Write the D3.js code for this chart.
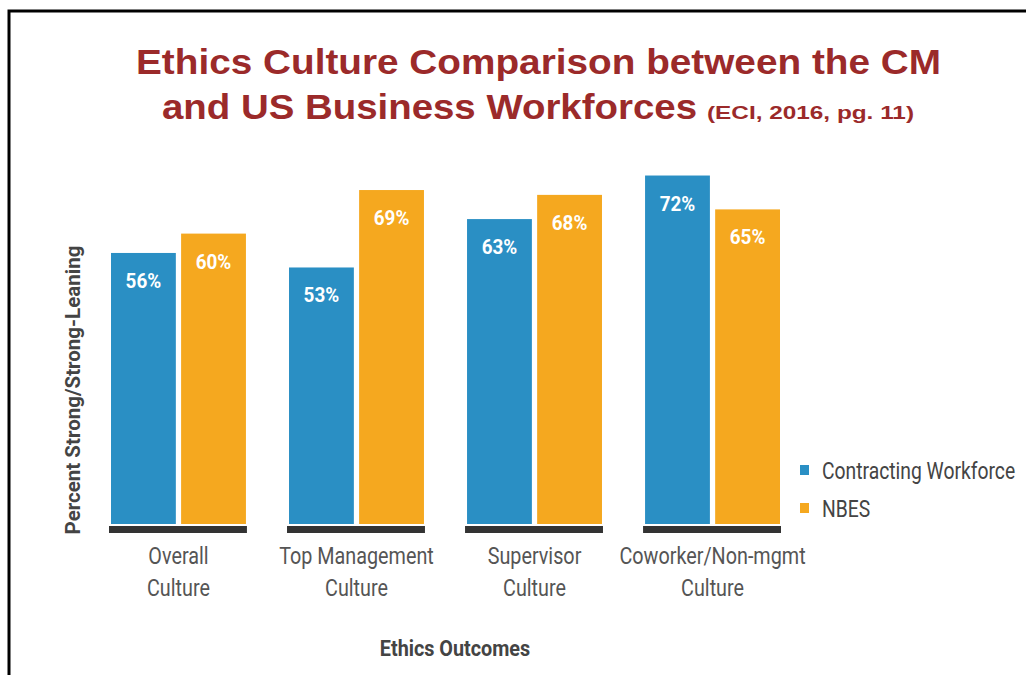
<!DOCTYPE html>
<html>
<head>
<meta charset="utf-8">
<script src="https://cdn.jsdelivr.net/npm/d3@7"></script>
<style>
  body { margin: 0; background: #fff; }
  svg { display: block; }
  text { font-family: Roboto, "Noto Sans", sans-serif; }
</style>
</head>
<body>
<svg id="chart" width="1026" height="675"></svg>
<script>
// categories and series
const categories = [["Overall", "Culture"], ["Top Management", "Culture"], ["Supervisor", "Culture"], ["Coworker/Non-mgmt", "Culture"]];
const seriesNames = ["Contracting Workforce", "NBES"];
const contracting = [56, 53, 63, 72];
const nbes = [60, 69, 68, 65];
const colors = ["#2a8fc4", "#f5a81f"];

let svg = d3.select('#chart');

// frame (only top and left edges show)
svg.append('path')
   .attr('d', 'M9,680 L9,11 L1030,11')
   .attr('fill', 'none')
   .attr('stroke', '#000')
   .attr('stroke-width', 3);

// title, stretched to the widths seen in the picture
let titleFont = 'Liberation Sans, Arial, sans-serif';
svg.append('text')
   .attr('x', 136).attr('y', 74)
   .attr('font-size', 35)
   .attr('textLength', 805)
   .attr('lengthAdjust', 'spacingAndGlyphs')
   .text('Ethics Culture Comparison between the CM');
svg.append('text')
   .attr('x', 162).attr('y', 119)
   .attr('font-size', 35)
   .attr('textLength', 535)
   .attr('lengthAdjust', 'spacingAndGlyphs')
   .text('and US Business Workforces');
svg.append('text')
   .attr('x', 707).attr('y', 119)
   .attr('font-size', 19)
   .attr('textLength', 207)
   .attr('lengthAdjust', 'spacingAndGlyphs')
   .text('(ECI, 2016, pg. 11)');
svg.selectAll('text')
   .style('font-family', titleFont)
   .attr('font-weight', 'bold')
   .attr('fill', '#9b2a2a');

let x0 = d3.scaleBand()
   .domain(d3.range(categories.length))
   .range([111, 780])
   .paddingInner(0.242)
   .paddingOuter(0);

let x1 = d3.scaleBand()
   .domain(d3.range(seriesNames.length))
   .range([0, x0.bandwidth()])
   .paddingInner(0.075);

let y = d3.scaleLinear().domain([0, 100]).range([524, 40]);

let rows = categories.map((c, i) => ({ i: i, values: [contracting[i], nbes[i]] }));

let groups = svg.selectAll('g.group').data(rows).enter()
   .append('g')
   .classed('group', true)
   .attr('transform', d => 'translate(' + x0(d.i) + ',0)');

groups.selectAll('rect.bar')
   .data(d => d.values.map((v, s) => ({ s: s, v: v })))
   .enter().append('rect')
   .classed('bar', true)
   .attr('x', d => x1(d.s))
   .attr('y', d => y(d.v))
   .attr('width', x1.bandwidth())
   .attr('height', d => y(0) - y(d.v))
   .attr('fill', d => colors[d.s]);

groups.selectAll('text.val')
   .data(d => d.values.map((v, s) => ({ s: s, v: v })))
   .enter().append('text')
   .classed('val', true)
   .attr('transform', d => 'translate(' + (x1(d.s) + x1.bandwidth() / 2) + ',' + (y(d.v) + 35) + ') scale(0.9,1)')
   .attr('text-anchor', 'middle')
   .attr('fill', '#fff')
   .attr('font-size', 21)
   .attr('font-weight', 'bold')
   .text(d => d.v + '%');

// dark base strip under each group
groups.append('rect')
   .attr('x', -2)
   .attr('y', y(0) + 2)
   .attr('width', x0.bandwidth() + 3)
   .attr('height', 7)
   .attr('fill', '#333');

// category labels, condensed
groups.selectAll('text.cat')
   .data(d => categories[d.i])
   .enter().append('text')
   .classed('cat', true)
   .attr('transform', (d, k) => 'translate(' + (x0.bandwidth() / 2) + ',' + (564 + k * 32) + ') scale(0.86,1)')
   .attr('text-anchor', 'middle')
   .attr('fill', '#555')
   .attr('font-size', 23)
   .text(d => d);

// axis titles
svg.append('text')
   .attr('transform', 'translate(455,656) scale(0.9,1)')
   .attr('text-anchor', 'middle')
   .attr('fill', '#444')
   .attr('font-size', 22)
   .attr('font-weight', 'bold')
   .text('Ethics Outcomes');

svg.append('text')
   .attr('transform', 'translate(80,390) rotate(-90)')
   .attr('text-anchor', 'middle')
   .attr('fill', '#444')
   .attr('font-size', 20.5)
   .attr('font-weight', 'bold')
   .text('Percent Strong/Strong-Leaning');

// legend
let legend = svg.selectAll('g.legend').data(seriesNames).enter()
   .append('g')
   .classed('legend', true)
   .attr('transform', (d, i) => 'translate(800,' + (465 + i * 38) + ')');

legend.append('rect')
   .attr('width', 9).attr('height', 10)
   .attr('fill', (d, i) => colors[i]);

legend.append('text')
   .attr('transform', 'translate(22,14) scale(0.84,1)')
   .attr('fill', '#444')
   .attr('font-size', 23)
   .text(d => d);
</script>
</body>
</html>
